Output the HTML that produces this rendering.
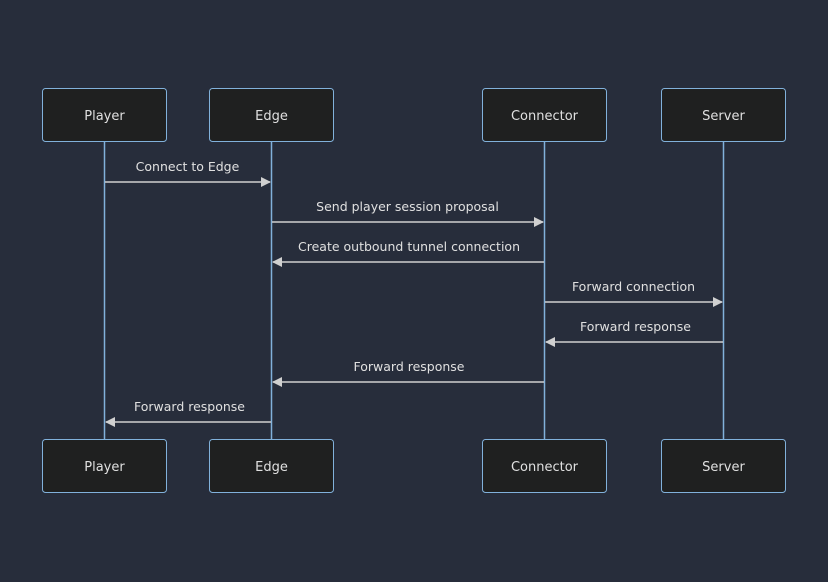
<!DOCTYPE html>
<html><head><style>
body{margin:0;background:#272d3b;}
svg{display:block;font-family:"DejaVu Sans","Liberation Sans",sans-serif;}
</style></head><body>
<svg width="828" height="582" viewBox="0 0 828 582">
<rect width="828" height="582" fill="#272d3b"/>
<defs><marker id="a" markerWidth="10" markerHeight="10" refX="9" refY="5" orient="auto" markerUnits="userSpaceOnUse"><path d="M0,0 L10,5 L0,10 z" fill="#d0d0d0"/></marker></defs>
<g stroke="#81b1db" stroke-width="1.5">
<line x1="104.5" y1="142" x2="104.5" y2="439"/>
<line x1="271.5" y1="142" x2="271.5" y2="439"/>
<line x1="544.5" y1="142" x2="544.5" y2="439"/>
<line x1="723.5" y1="142" x2="723.5" y2="439"/>
</g>
<g fill="#1f2020" stroke="#81b1db" stroke-width="1">
<rect x="42.5" y="88.5" width="124" height="53" rx="3"/>
<rect x="209.5" y="88.5" width="124" height="53" rx="3"/>
<rect x="482.5" y="88.5" width="124" height="53" rx="3"/>
<rect x="661.5" y="88.5" width="124" height="53" rx="3"/>
<rect x="42.5" y="439.5" width="124" height="53" rx="3"/>
<rect x="209.5" y="439.5" width="124" height="53" rx="3"/>
<rect x="482.5" y="439.5" width="124" height="53" rx="3"/>
<rect x="661.5" y="439.5" width="124" height="53" rx="3"/>
</g>
<g fill="#e0e0e0" font-size="13" text-anchor="middle">
<text x="104.5" y="120">Player</text><text x="271.5" y="120">Edge</text>
<text x="544.5" y="120">Connector</text><text x="723.5" y="120">Server</text>
<text x="104.5" y="471">Player</text><text x="271.5" y="471">Edge</text>
<text x="544.5" y="471">Connector</text><text x="723.5" y="471">Server</text>
</g>
<g stroke="#d0d0d0" stroke-width="1.5" marker-end="url(#a)">
<line x1="105" y1="182" x2="270" y2="182"/>
<line x1="272" y1="222" x2="543" y2="222"/>
<line x1="544" y1="262" x2="273" y2="262"/>
<line x1="545" y1="302" x2="722" y2="302"/>
<line x1="723" y1="342" x2="546" y2="342"/>
<line x1="544" y1="382" x2="273" y2="382"/>
<line x1="271" y1="422" x2="106" y2="422"/>
</g>
<g fill="#e0e0e0" font-size="12.5" text-anchor="middle">
<text x="187.5" y="171">Connect to Edge</text>
<text x="407.5" y="211">Send player session proposal</text>
<text x="409" y="251">Create outbound tunnel connection</text>
<text x="633.5" y="291">Forward connection</text>
<text x="635.5" y="331">Forward response</text>
<text x="409" y="371">Forward response</text>
<text x="189.5" y="411">Forward response</text>
</g>
</svg>
</body></html>
